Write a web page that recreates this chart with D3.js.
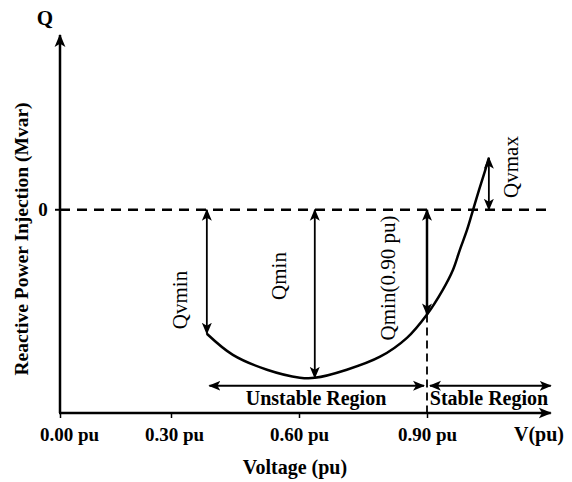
<!DOCTYPE html>
<html>
<head>
<meta charset="utf-8">
<script src="https://cdn.jsdelivr.net/npm/d3@7"></script>
<style>
  body { margin: 0; background: #fff; }
  svg text { font-family: "Liberation Serif", "Times New Roman", serif; fill: #000; }
</style>
</head>
<body>
<svg id="chart" width="572" height="482"></svg>
<script>
// Q-V curve, values (Q in arbitrary units, 0 = zero line)
const curveV = [0.384, 0.445, 0.525, 0.602, 0.637, 0.712, 0.790, 0.853, 0.900, 0.937, 0.961, 0.977, 0.994, 1.008, 1.022, 1.036, 1.045];
const curveQ = [-61.0, -71.4, -78.7, -82.6, -82.7, -78.7, -72.3, -63.0, -51.5, -39.4, -29.5, -19.7, -9.8, 0, 9.8, 19.2, 25.6];

// x-axis ticks
const xTicks = [0, 0.3, 0.6, 0.9];
const xTickLabels = ["0.00 pu", "0.30 pu", "0.60 pu", "0.90 pu"];

// region arrows
const regionNames = ["Unstable Region", "Stable Region"];
const regionFrom = [0.39, 0.907];
const regionTo = [0.893, 1.19];
const regionQ = -86.6;

const svg = d3.select("#chart");

// scales (the original drawing is not evenly spaced between 0 and 0.3)
const x = d3.scaleLinear().domain([0, 0.3, 0.9, 1.2]).range([60, 171, 427, 555]);
const y = d3.scaleLinear().domain([-100, 86]).range([413, 35]);

// arrowhead markers
const defs = svg.append("defs");
function addMarker(id, size) {
    defs.append("marker")
        .attr("id", id)
        .attr("viewBox", "0 -6 12 12")
        .attr("refX", 11)
        .attr("refY", 0)
        .attr("markerUnits", "userSpaceOnUse")
        .attr("markerWidth", size)
        .attr("markerHeight", size)
        .attr("orient", "auto-start-reverse")
      .append("path")
        .attr("d", "M0,-5L12,0L0,5L3,0Z")
        .attr("fill", "#000");
}
addMarker("head", 13);
addMarker("headSmall", 12);

// axes lines
svg.append("line")
    .attr("x1", x(0)).attr("y1", y(-100))
    .attr("x2", x(0)).attr("y2", y(86))
    .attr("stroke", "#000").attr("stroke-width", 2.5)
    .attr("marker-end", "url(#head)");

svg.append("line")
    .attr("x1", x(0) - 1).attr("y1", y(-100))
    .attr("x2", x(1.19)).attr("y2", y(-100))
    .attr("stroke", "#000").attr("stroke-width", 2.5)
    .attr("marker-end", "url(#head)");

// x axis ticks + labels
const xAxis = d3.axisBottom(x)
    .tickValues(xTicks)
    .tickFormat((d, i) => xTickLabels[i])
    .tickSize(5);

const gx = svg.append("g")
    .attr("transform", "translate(0," + y(-100) + ")")
    .call(xAxis);
gx.select(".domain").remove();
gx.selectAll(".tick line").attr("stroke", "#000").attr("stroke-width", 1.5);
gx.selectAll(".tick text")
    .attr("y", 28).attr("dy", 0)
    .attr("font-size", 19).attr("font-weight", "bold")
    .attr("dx", (d, i) => i === 0 ? 9 : (i === 1 ? 3 : 0))
    .attr("fill", "#000");

svg.append("text")
    .attr("x", 539).attr("y", 441)
    .attr("text-anchor", "middle")
    .attr("font-size", 20).attr("font-weight", "bold")
    .text("V(pu)");

// y axis zero tick
svg.append("line")
    .attr("x1", x(0) - 5).attr("x2", x(0))
    .attr("y1", y(0)).attr("y2", y(0))
    .attr("stroke", "#000").attr("stroke-width", 2);
svg.append("text")
    .attr("x", 43).attr("y", y(0)).attr("dy", "0.35em")
    .attr("text-anchor", "middle")
    .attr("font-size", 19).attr("font-weight", "bold")
    .text("0");

svg.append("text")
    .attr("x", 45).attr("y", 25)
    .attr("text-anchor", "middle")
    .attr("font-size", 21).attr("font-weight", "bold")
    .text("Q");

// axis titles
svg.append("text")
    .attr("x", 295).attr("y", 474)
    .attr("text-anchor", "middle")
    .attr("font-size", 20).attr("font-weight", "bold")
    .text("Voltage (pu)");

svg.append("text")
    .attr("transform", "translate(28,239) rotate(-90)")
    .attr("text-anchor", "middle")
    .attr("font-size", 19.5).attr("font-weight", "bold")
    .text("Reactive Power Injection (Mvar)");

// zero line
svg.append("line")
    .attr("x1", x(0)).attr("x2", x(1.19))
    .attr("y1", y(0)).attr("y2", y(0))
    .attr("stroke", "#000").attr("stroke-width", 2.5)
    .attr("stroke-dasharray", "10,7");

// vertical dashed line at 0.90 pu
svg.append("line")
    .attr("x1", x(0.9)).attr("x2", x(0.9))
    .attr("y1", y(curveQ[8])).attr("y2", y(-100))
    .attr("stroke", "#000").attr("stroke-width", 1.8)
    .attr("stroke-dasharray", "8,5");

// the curve
const line = d3.line()
    .x((d, i) => x(curveV[i]))
    .y(d => y(d))
    .curve(d3.curveCatmullRom.alpha(0.5));

svg.append("path")
    .datum(curveQ)
    .attr("d", line)
    .attr("fill", "none")
    .attr("stroke", "#000")
    .attr("stroke-width", 2.5);

// vertical double arrows from the zero line to the curve
const iMin = curveQ.indexOf(d3.min(curveQ));
const iMax = curveQ.length - 1;
const annV = [curveV[0], curveV[iMin], 0.9, curveV[iMax]];
const annQ = [curveQ[0], curveQ[iMin], curveQ[8], curveQ[iMax]];
const annText = ["Qvmin", "Qmin", "Qmin(0.90 pu)", "Qvmax"];
const annLabelX = [180, 279, 388, 511];
const annLabelY = [300, 276, 278, 167];

annV.forEach(function(v, i) {
    svg.append("line")
        .attr("x1", x(v)).attr("x2", x(v))
        .attr("y1", y(0)).attr("y2", y(annQ[i]))
        .attr("stroke", "#000").attr("stroke-width", i === 2 ? 2.5 : 1.8)
        .attr("marker-start", "url(#headSmall)")
        .attr("marker-end", "url(#headSmall)");

    svg.append("text")
        .attr("transform", "translate(" + annLabelX[i] + "," + annLabelY[i] + ") rotate(-90)")
        .attr("text-anchor", "middle")
        .attr("dy", "0.35em")
        .attr("font-size", 21)
        .text(annText[i]);
});

// region arrows
regionNames.forEach(function(name, i) {
    svg.append("line")
        .attr("x1", x(regionFrom[i])).attr("x2", x(regionTo[i]))
        .attr("y1", y(regionQ)).attr("y2", y(regionQ))
        .attr("stroke", "#000").attr("stroke-width", 2.2)
        .attr("marker-start", "url(#headSmall)")
        .attr("marker-end", "url(#headSmall)");
});

svg.append("text")
    .attr("x", 316).attr("y", 405)
    .attr("text-anchor", "middle")
    .attr("font-size", 20).attr("font-weight", "bold")
    .text(regionNames[0]);
svg.append("text")
    .attr("x", 489).attr("y", 405)
    .attr("text-anchor", "middle")
    .attr("font-size", 20).attr("font-weight", "bold")
    .text(regionNames[1]);
</script>
</body>
</html>
